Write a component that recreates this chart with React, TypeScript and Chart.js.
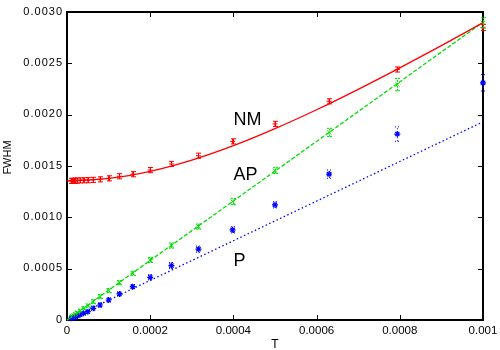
import React, { useEffect, useRef } from "react";
import { Chart, registerables } from "chart.js";

Chart.register(...registerables);

// Temperatures (T) of measured points
const T = [0.00001, 0.0000126, 0.0000158, 0.00002, 0.0000251, 0.0000316, 0.0000398, 0.00005, 0.000063, 0.0000794, 0.0001, 0.000126, 0.000158, 0.0002, 0.000251, 0.000316, 0.000398, 0.0005, 0.00063, 0.000794, 0.001];

// NM series
const nmValues = [0.001355, 0.001355, 0.001356, 0.001357, 0.001358, 0.00136, 0.001361, 0.001362, 0.001365, 0.00137, 0.00138, 0.0014, 0.00142, 0.00146, 0.00152, 0.0016, 0.00174, 0.00191, 0.00213, 0.00244, 0.00285];
const nmErrors = [0.000025, 0.000025, 0.000025, 0.000025, 0.000025, 0.000025, 0.000025, 0.000025, 0.000025, 0.000025, 0.000025, 0.000025, 0.000025, 0.000025, 0.000025, 0.000025, 0.000025, 0.000025, 0.000025, 0.000025, 0.00003];

// AP series
const apValues = [0.000029, 0.000036, 0.000046, 0.000058, 0.000073, 0.000091, 0.000115, 0.00014, 0.000179, 0.000228, 0.000286, 0.000364, 0.000455, 0.000585, 0.000725, 0.00091, 0.001154, 0.001457, 0.001827, 0.002293, 0.002894];
const apErrors = [0.00001, 0.00001, 0.00001, 0.00001, 0.00001, 0.00001, 0.000015, 0.000015, 0.00002, 0.00002, 0.00002, 0.00002, 0.00002, 0.000025, 0.000025, 0.000025, 0.00003, 0.00003, 0.00004, 0.00006, 0.00005];

// P series
const pValues = [0.000016, 0.00002, 0.000025, 0.000032, 0.00004, 0.000051, 0.000065, 0.000081, 0.000114, 0.000146, 0.000195, 0.000254, 0.000325, 0.000416, 0.00053, 0.00069, 0.000878, 0.001122, 0.001421, 0.001811, 0.00231];
const pErrors = [0.00001, 0.00001, 0.00001, 0.00001, 0.00001, 0.00001, 0.000015, 0.000015, 0.00002, 0.00002, 0.00002, 0.00002, 0.00002, 0.000025, 0.00003, 0.00003, 0.00003, 0.00003, 0.00004, 0.00007, 0.00008];

// Fit curves
const nmFitT = [0, 0.0001, 0.0002, 0.0003, 0.0004, 0.0005, 0.0006, 0.0007, 0.0008, 0.0009, 0.001];
const nmFit = [0.001355, 0.001379, 0.001448, 0.001557, 0.001698, 0.001864, 0.002048, 0.002247, 0.002456, 0.002673, 0.002896];
const lineFitT = [0, 0.001];
const apFit = [0, 0.0029];
const pFit = [0, 0.00193];

// Tick labels
const xTickValues = [0, 0.0002, 0.0004, 0.0006, 0.0008, 0.001];
const xTickLabels = ["0", "0.0002", "0.0004", "0.0006", "0.0008", "0.001"];
const yTickValues = [0, 0.0005, 0.001, 0.0015, 0.002, 0.0025, 0.003];
const yTickLabels = ["0", "0.0005", "0.0010", "0.0015", "0.0020", "0.0025", "0.0030"];

// In-plot labels
const curveLabels = ["NM", "AP", "P"];
const curveLabelT = [0.0004, 0.0004, 0.0004];
const curveLabelY = [0.0019, 0.00136, 0.00053];

const RED = "#ff0000";
const GREEN = "#00e000";
const BLUE = "#0000ff";
const FONT = "'Liberation Sans', Arial, sans-serif";

const pts = (xs: number[], ys: number[]) => xs.map((x, i) => ({ x, y: ys[i] }));

const frameTicksPlugin = {
  id: "frameTicks",
  beforeDatasetsDraw(chart: any) {
    const { ctx, chartArea: a, scales } = chart;
    ctx.save();
    ctx.strokeStyle = "#000";
    ctx.lineWidth = 1;
    const L = 5;
    ctx.beginPath();
    xTickValues.forEach((v) => {
      const px = Math.round(scales.x.getPixelForValue(v)) + 0.5;
      ctx.moveTo(px, a.bottom);
      ctx.lineTo(px, a.bottom - L);
      ctx.moveTo(px, a.top);
      ctx.lineTo(px, a.top + L);
    });
    yTickValues.forEach((v) => {
      const py = Math.round(scales.y.getPixelForValue(v)) + 0.5;
      ctx.moveTo(a.left, py);
      ctx.lineTo(a.left + L, py);
      ctx.moveTo(a.right, py);
      ctx.lineTo(a.right - L, py);
    });
    ctx.stroke();
    ctx.lineWidth = 2;
    ctx.strokeRect(a.left, a.top, a.right - a.left, a.bottom - a.top);
    ctx.restore();
  },
  afterDraw(chart: any) {
    const { ctx, chartArea: a, scales } = chart;
    ctx.save();
    ctx.fillStyle = "#000";
    // tick labels
    ctx.font = `11px ${FONT}`;
    (ctx as any).letterSpacing = "1px";
    ctx.textAlign = "right";
    ctx.textBaseline = "middle";
    yTickValues.forEach((v, i) => {
      ctx.fillText(yTickLabels[i], 63, scales.y.getPixelForValue(v) - 0.5);
    });
    (ctx as any).letterSpacing = "0px";
    ctx.font = `11.5px ${FONT}`;
    ctx.textAlign = "center";
    ctx.textBaseline = "alphabetic";
    xTickValues.forEach((v, i) => {
      ctx.fillText(xTickLabels[i], scales.x.getPixelForValue(v), 333.5);
    });
    // curve labels
    ctx.font = `18px ${FONT}`;
    ctx.textAlign = "left";
    curveLabels.forEach((s, i) => {
      ctx.fillText(s, scales.x.getPixelForValue(curveLabelT[i]), scales.y.getPixelForValue(curveLabelY[i]));
    });
    // axis titles
    ctx.font = `12px ${FONT}`;
    ctx.textAlign = "center";
    ctx.textBaseline = "alphabetic";
    ctx.fillText("T", (a.left + a.right) / 2, 348);
    ctx.font = `11px ${FONT}`;
    ctx.translate(10.5, 157.5);
    ctx.rotate(-Math.PI / 2);
    ctx.fillText("FWHM", 0, 0);
    ctx.restore();
  },
};

const errorBarPlugin = {
  id: "errorBars",
  afterDatasetsDraw(chart: any) {
    const { ctx, scales } = chart;
    chart.data.datasets.forEach((ds: any) => {
      if (!ds.errors) return;
      ctx.save();
      ctx.strokeStyle = ds.borderColor;
      ctx.lineWidth = 1;
      ctx.setLineDash(ds.errDash || []);
      ds.data.forEach((p: any, i: number) => {
        const e = ds.errors[i];
        const x = Math.round(scales.x.getPixelForValue(p.x)) + 0.5;
        const y1 = scales.y.getPixelForValue(p.y - e);
        const y2 = scales.y.getPixelForValue(p.y + e);
        ctx.beginPath();
        ctx.moveTo(x, y1);
        ctx.lineTo(x, y2);
        ctx.moveTo(x - 2.5, y1);
        ctx.lineTo(x + 2.5, y1);
        ctx.moveTo(x - 2.5, y2);
        ctx.lineTo(x + 2.5, y2);
        ctx.stroke();
      });
      ctx.restore();
    });
  },
};

export default function App() {
  const ref = useRef<HTMLCanvasElement>(null);
  useEffect(() => {
    document.body.style.margin = "0";
    const chart = new Chart(ref.current!, {
      type: "scatter",
      data: {
        datasets: [
          {
            label: "NM fit",
            data: pts(nmFitT, nmFit),
            showLine: true,
            borderColor: RED,
            borderWidth: 1.3,
            pointRadius: 0,
            cubicInterpolationMode: "monotone",
            clip: false,
          } as any,
          {
            label: "AP fit",
            data: pts(lineFitT, apFit),
            showLine: true,
            borderColor: GREEN,
            borderWidth: 1.3,
            borderDash: [4, 2],
            pointRadius: 0,
            clip: false,
          },
          {
            label: "P fit",
            data: pts(lineFitT, pFit),
            showLine: true,
            borderColor: BLUE,
            borderWidth: 1.3,
            borderDash: [1.5, 2.5],
            pointRadius: 0,
            clip: false,
          },
          {
            label: "NM",
            data: pts(T, nmValues),
            errors: nmErrors,
            borderColor: RED,
            backgroundColor: RED,
            pointStyle: "cross",
            pointRadius: 2.5,
            borderWidth: 1,
            clip: false,
          } as any,
          {
            label: "AP",
            data: pts(T, apValues),
            errors: apErrors,
            errDash: [2, 1],
            borderColor: GREEN,
            backgroundColor: GREEN,
            pointStyle: "crossRot",
            pointRadius: 3,
            borderWidth: 1,
            clip: false,
          } as any,
          {
            label: "P",
            data: pts(T, pValues),
            errors: pErrors,
            errDash: [1, 2],
            borderColor: BLUE,
            backgroundColor: BLUE,
            pointStyle: "star",
            pointRadius: 3,
            borderWidth: 1.2,
            clip: false,
          } as any,
        ],
      },
      options: {
        animation: false,
        responsive: false,
        maintainAspectRatio: false,
        layout: { padding: { top: 12, right: 17, left: 0, bottom: 0 } },
        plugins: { legend: { display: false }, tooltip: { enabled: false } },
        scales: {
          x: {
            type: "linear",
            min: 0,
            max: 0.001,
            grid: { display: false },
            border: { display: false },
            ticks: { display: false },
            afterFit: (s: any) => {
              s.height = 30;
              s.paddingLeft = 0;
              s.paddingRight = 0;
            },
          },
          y: {
            type: "linear",
            min: 0,
            max: 0.003,
            grid: { display: false },
            border: { display: false },
            ticks: { display: false },
            afterFit: (s: any) => {
              s.width = 67;
              s.paddingTop = 0;
              s.paddingBottom = 0;
            },
          },
        },
      },
      plugins: [frameTicksPlugin, errorBarPlugin],
    });
    return () => chart.destroy();
  }, []);
  return <canvas ref={ref} width={500} height={350} style={{ display: "block" }} />;
}
